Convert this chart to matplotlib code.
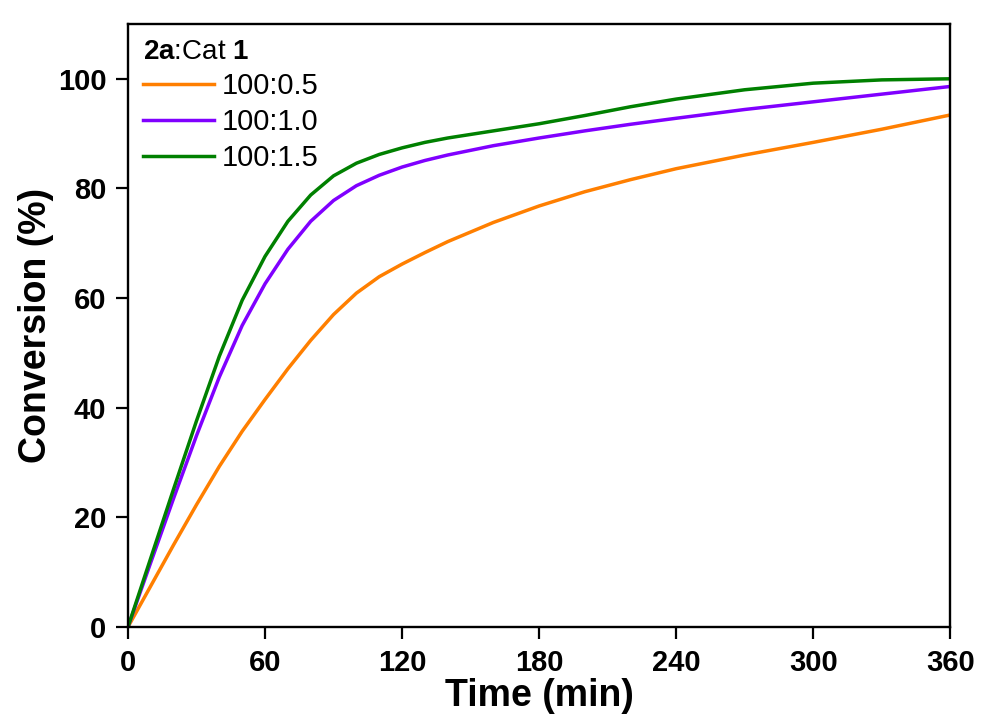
import numpy as np
import matplotlib.pyplot as plt

plt.rcParams['font.family'] = 'Liberation Sans'
plt.rcParams['mathtext.fontset'] = 'custom'
plt.rcParams['mathtext.rm'] = 'Liberation Sans'
plt.rcParams['mathtext.bf'] = 'Liberation Sans:bold'

# conversion vs time for three substrate:catalyst ratios
time = [0, 10, 20, 30, 40, 50, 60, 70, 80, 90, 100, 110, 120, 130,
        140, 160, 180, 200, 220, 240, 270, 300, 330, 360]
conv_05 = [0, 7.5, 15.0, 22.3, 29.3, 35.7, 41.5, 47.1, 52.3, 57.0, 60.9, 63.9, 66.2, 68.3,
           70.3, 73.8, 76.8, 79.4, 81.6, 83.6, 86.1, 88.4, 90.8, 93.4]
conv_10 = [0, 11.8, 23.5, 34.9, 45.6, 55.0, 62.6, 68.9, 74.0, 77.8, 80.5, 82.4, 83.9, 85.1,
           86.1, 87.8, 89.2, 90.5, 91.7, 92.8, 94.4, 95.8, 97.2, 98.6]
conv_15 = [0, 12.6, 25.2, 37.6, 49.4, 59.6, 67.6, 74.0, 78.8, 82.3, 84.6, 86.2, 87.4, 88.4,
           89.2, 90.5, 91.8, 93.3, 94.9, 96.3, 98.0, 99.2, 99.8, 100]
labels = ['100:0.5', '100:1.0', '100:1.5']
colors = ['#FF7F00', '#8000FF', '#008000']

fig = plt.figure(figsize=(9.92, 7.22), dpi=100)
ax = fig.add_axes([0.129, 0.1316, 0.829, 0.8352])

for y, lab, c in zip([conv_05, conv_10, conv_15], labels, colors):
    ax.plot(time, y, color=c, lw=2.5, label=lab, solid_joinstyle='round')

ax.set_xlim(0, 360)
ax.set_ylim(0, 110)
ax.set_xticks(np.arange(0, 361, 60))
ax.set_yticks(np.arange(0, 101, 20))
ax.tick_params(direction='out', length=8.5, width=1.6, labelsize=21, pad=7)
for t in ax.get_xticklabels() + ax.get_yticklabels():
    t.set_fontweight('bold')
for s in ax.spines.values():
    s.set_linewidth(1.7)

ax.set_xlabel('Time (min)', fontsize=27, fontweight='bold', labelpad=1)
ax.set_ylabel('Conversion (%)', fontsize=27, fontweight='bold', labelpad=3)

leg = ax.legend(loc='upper left', frameon=False, fontsize=21,
                title=r'$\mathbf{2a}$:Cat $\mathbf{1}$', title_fontsize=20,
                alignment='left', handlelength=2.45, handletextpad=0.28,
                labelspacing=0.27, borderaxespad=0.3, borderpad=0.2)

fig.savefig('out.png', dpi=100)
